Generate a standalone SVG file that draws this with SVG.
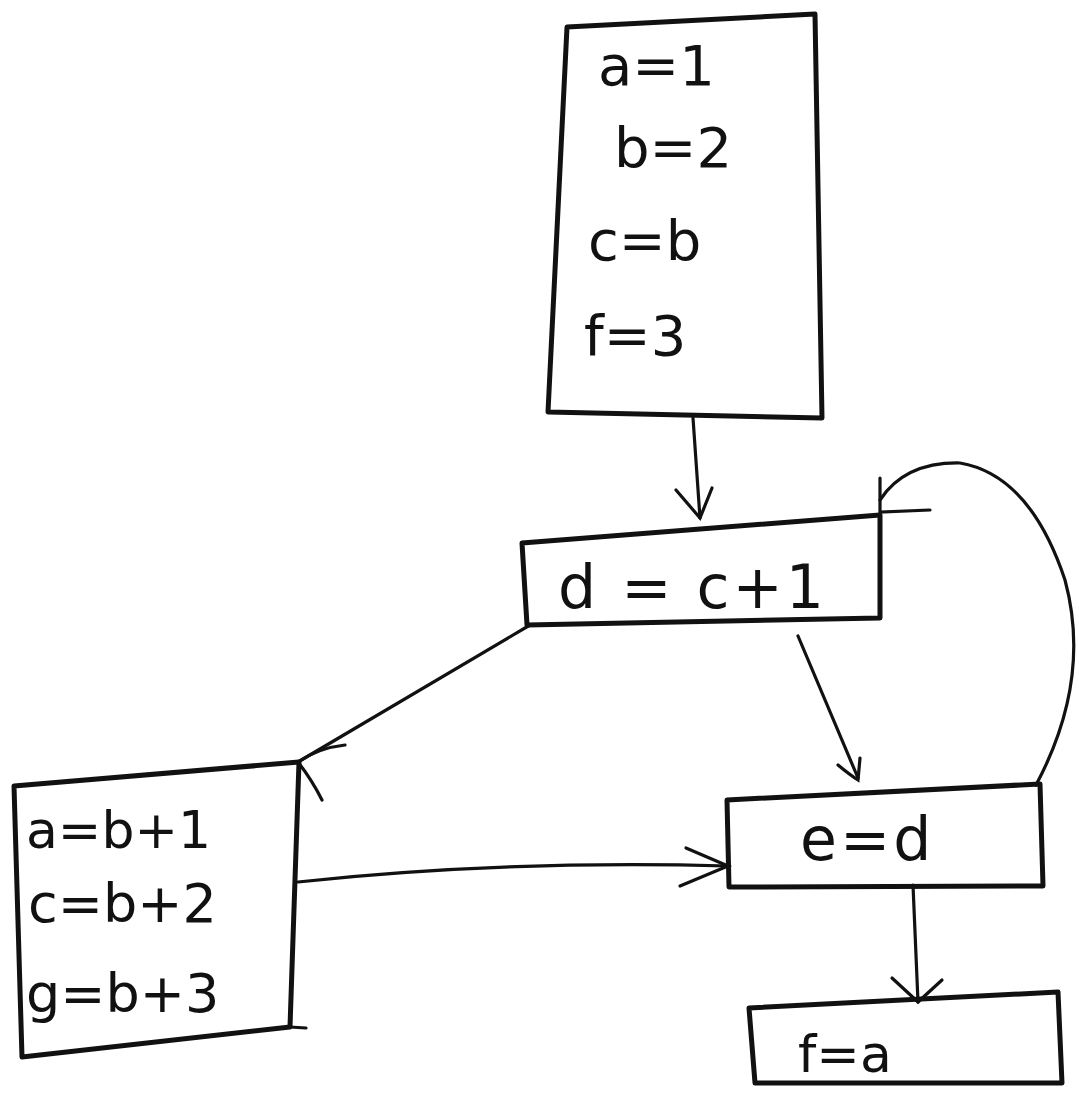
<svg xmlns="http://www.w3.org/2000/svg" width="1079" height="1095" viewBox="0 0 1079 1095">
<style>
.box{fill:none;stroke:#111;stroke-width:5;stroke-linejoin:round}
.edge{fill:none;stroke:#111;stroke-width:3.2;stroke-linecap:round}
.t{font-family:"DejaVu Sans","Liberation Sans",sans-serif;fill:#111}
</style>
<rect width="1079" height="1095" fill="#fff"/>
<g id="connectors">
<path class="edge" d="M693,418 L700,518"/>
<path class="edge" d="M676,490 L700,518 L712,488"/>
<path class="edge" d="M530,625 L298,762"/>
<path class="edge" d="M345,745 Q318,748 298,762 Q312,780 322,800"/>
<path class="edge" d="M798,636 L858,778"/>
<path class="edge" d="M838,765 Q850,775 858,780 L860,758"/>
<path class="edge" d="M298,882 Q500,860 728,866"/>
<path class="edge" d="M686,848 L728,866 L680,886"/>
<path class="edge" d="M1036,785 Q1092,680 1065,580 Q1030,475 960,463 Q905,462 880,500"/>
<path class="edge" d="M880,478 L880,512 L930,510"/>
<path class="edge" d="M913,885 L918,1002"/>
<path class="edge" d="M892,978 L918,1002 L942,980"/>
<path class="edge" d="M290,1027 L306,1028"/>
</g>
<g id="n1">
<path class="box" d="M567,27 L815,14 L822,418 L548,412 Z"/>
<text class="t" x="598" y="85" font-size="56">a=1</text>
<text class="t" x="614" y="167" font-size="56">b=2</text>
<text class="t" x="588" y="260" font-size="56">c=b</text>
<text class="t" x="584" y="355" font-size="56">f=3</text>
</g>
<g id="n2">
<path class="box" d="M522,543 L880,515 L880,618 L527,625 Z"/>
<text class="t" x="558" y="608" font-size="60" letter-spacing="3">d = c+1</text>
</g>
<g id="n3">
<path class="box" d="M14,786 L299,762 L290,1027 L22,1057 Z"/>
<text class="t" x="26" y="848" font-size="52">a=b+1</text>
<text class="t" x="28" y="922" font-size="54">c=b+2</text>
<text class="t" x="26" y="1012" font-size="54">g=b+3</text>
</g>
<g id="n4">
<path class="box" d="M727,800 L1040,784 L1043,886 L729,887 Z"/>
<text class="t" x="800" y="860" font-size="60" letter-spacing="3">e=d</text>
</g>
<g id="n5">
<path class="box" d="M749,1008 L1058,992 L1062,1083 L755,1083 Z"/>
<text class="t" x="798" y="1072" font-size="52">f=a</text>
</g>
</svg>
